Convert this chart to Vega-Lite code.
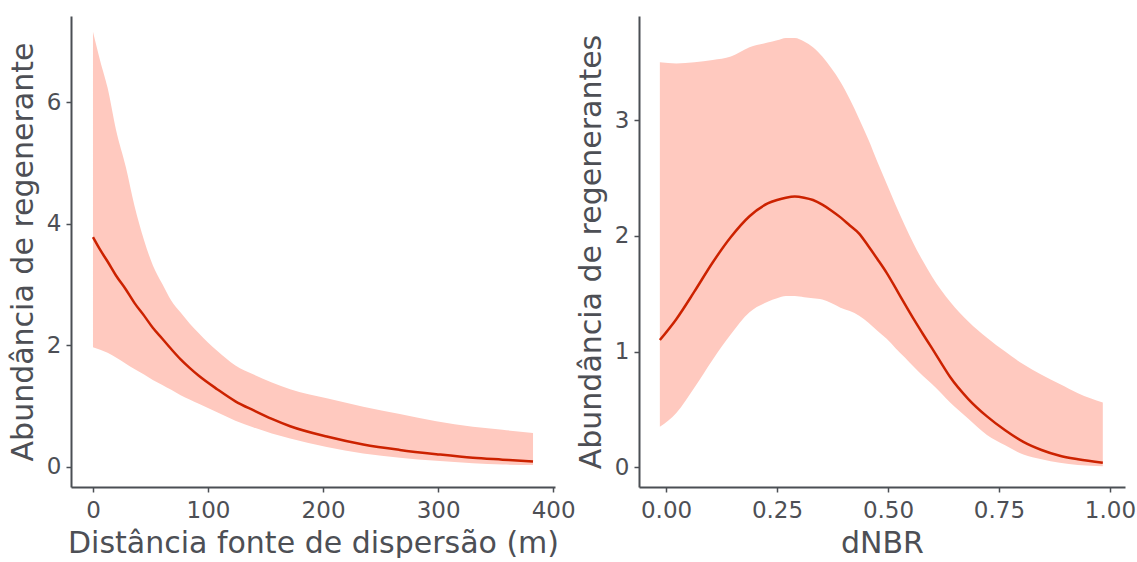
{
  "$schema": "https://vega.github.io/schema/vega-lite/v6.json",
  "autosize": {"type": "pad"},
  "padding": {"left": 8, "top": 16, "right": 0, "bottom": 0},
  "background": "white",
  "spacing": 84,
  "bounds": "flush",
  "config": {
    "view": {"stroke": null},
    "axis": {
      "grid": false,
      "domainColor": "#4B4F54",
      "domainWidth": 2,
      "tickColor": "#4B4F54",
      "tickWidth": 1.5,
      "tickSize": 5,
      "labelColor": "#4D4F55",
      "labelFont": "DejaVu Sans",
      "labelFontSize": 23,
      "labelPadding": 5,
      "titleColor": "#4D4F55",
      "titleFont": "DejaVu Sans",
      "titleFontSize": 30,
      "titleFontWeight": "normal"
    }
  },
  "datasets": {
    "dist": [
      {"d": 0, "fit": 3.78, "lo": 1.97, "hi": 7.16},
      {"d": 6.3, "fit": 3.57, "lo": 1.93, "hi": 6.68},
      {"d": 12.7, "fit": 3.38, "lo": 1.88, "hi": 6.24},
      {"d": 20.0, "fit": 3.15, "lo": 1.80, "hi": 5.55},
      {"d": 28.6, "fit": 2.92, "lo": 1.70, "hi": 4.93},
      {"d": 36.0, "fit": 2.70, "lo": 1.61, "hi": 4.30},
      {"d": 44.4, "fit": 2.49, "lo": 1.52, "hi": 3.73},
      {"d": 52.0, "fit": 2.29, "lo": 1.43, "hi": 3.32},
      {"d": 60.3, "fit": 2.11, "lo": 1.35, "hi": 3.01},
      {"d": 68.0, "fit": 1.94, "lo": 1.27, "hi": 2.74},
      {"d": 76.2, "fit": 1.77, "lo": 1.18, "hi": 2.54},
      {"d": 84.0, "fit": 1.63, "lo": 1.11, "hi": 2.36},
      {"d": 92.0, "fit": 1.50, "lo": 1.04, "hi": 2.20},
      {"d": 107.9, "fit": 1.28, "lo": 0.90, "hi": 1.91},
      {"d": 123.8, "fit": 1.08, "lo": 0.76, "hi": 1.67},
      {"d": 139.7, "fit": 0.93, "lo": 0.65, "hi": 1.52},
      {"d": 155.5, "fit": 0.79, "lo": 0.55, "hi": 1.39},
      {"d": 171.4, "fit": 0.67, "lo": 0.47, "hi": 1.28},
      {"d": 203.2, "fit": 0.50, "lo": 0.33, "hi": 1.13},
      {"d": 234.9, "fit": 0.37, "lo": 0.22, "hi": 0.99},
      {"d": 266.7, "fit": 0.28, "lo": 0.15, "hi": 0.87},
      {"d": 298.4, "fit": 0.21, "lo": 0.10, "hi": 0.75},
      {"d": 330.2, "fit": 0.15, "lo": 0.06, "hi": 0.66},
      {"d": 356.0, "fit": 0.12, "lo": 0.04, "hi": 0.61},
      {"d": 382.5, "fit": 0.09, "lo": 0.03, "hi": 0.56}
    ],
    "nbr": [
      {"n": -0.014, "fit": 1.10, "lo": 0.35, "hi": 3.50},
      {"n": 0.023, "fit": 1.28, "lo": 0.47, "hi": 3.49},
      {"n": 0.064, "fit": 1.52, "lo": 0.69, "hi": 3.50},
      {"n": 0.105, "fit": 1.77, "lo": 0.93, "hi": 3.52},
      {"n": 0.146, "fit": 1.99, "lo": 1.15, "hi": 3.55},
      {"n": 0.188, "fit": 2.17, "lo": 1.34, "hi": 3.63},
      {"n": 0.229, "fit": 2.28, "lo": 1.43, "hi": 3.67},
      {"n": 0.250, "fit": 2.31, "lo": 1.46, "hi": 3.69},
      {"n": 0.270, "fit": 2.33, "lo": 1.48, "hi": 3.71},
      {"n": 0.290, "fit": 2.34, "lo": 1.48, "hi": 3.71},
      {"n": 0.311, "fit": 2.33, "lo": 1.47, "hi": 3.68},
      {"n": 0.331, "fit": 2.31, "lo": 1.46, "hi": 3.63},
      {"n": 0.352, "fit": 2.27, "lo": 1.45, "hi": 3.55},
      {"n": 0.372, "fit": 2.22, "lo": 1.42, "hi": 3.45},
      {"n": 0.393, "fit": 2.16, "lo": 1.38, "hi": 3.33},
      {"n": 0.414, "fit": 2.09, "lo": 1.35, "hi": 3.18},
      {"n": 0.435, "fit": 2.02, "lo": 1.31, "hi": 3.01},
      {"n": 0.456, "fit": 1.91, "lo": 1.25, "hi": 2.83},
      {"n": 0.476, "fit": 1.80, "lo": 1.18, "hi": 2.64},
      {"n": 0.497, "fit": 1.68, "lo": 1.11, "hi": 2.45},
      {"n": 0.517, "fit": 1.55, "lo": 1.03, "hi": 2.27},
      {"n": 0.538, "fit": 1.41, "lo": 0.95, "hi": 2.09},
      {"n": 0.558, "fit": 1.28, "lo": 0.87, "hi": 1.93},
      {"n": 0.579, "fit": 1.15, "lo": 0.79, "hi": 1.78},
      {"n": 0.599, "fit": 1.03, "lo": 0.72, "hi": 1.65},
      {"n": 0.620, "fit": 0.90, "lo": 0.64, "hi": 1.53},
      {"n": 0.640, "fit": 0.78, "lo": 0.56, "hi": 1.43},
      {"n": 0.681, "fit": 0.59, "lo": 0.42, "hi": 1.26},
      {"n": 0.723, "fit": 0.44, "lo": 0.28, "hi": 1.12},
      {"n": 0.764, "fit": 0.32, "lo": 0.19, "hi": 1.00},
      {"n": 0.805, "fit": 0.22, "lo": 0.11, "hi": 0.89},
      {"n": 0.846, "fit": 0.15, "lo": 0.07, "hi": 0.80},
      {"n": 0.887, "fit": 0.10, "lo": 0.04, "hi": 0.72},
      {"n": 0.928, "fit": 0.07, "lo": 0.02, "hi": 0.64},
      {"n": 0.984, "fit": 0.04, "lo": 0.01, "hi": 0.56}
    ]
  },
  "hconcat": [
    {
      "width": 484,
      "height": 471,
      "data": {"name": "dist"},
      "encoding": {
        "x": {
          "field": "d",
          "type": "quantitative",
          "scale": {"domain": [-19.1, 401.6], "nice": false, "zero": false},
          "axis": {"values": [0, 100, 200, 300, 400], "format": "d", "title": "Distância fonte de dispersão (m)", "labelPadding": 7, "titlePadding": 6}
        }
      },
      "layer": [
        {
          "mark": {"type": "area", "color": "#FFC9BF", "opacity": 1, "interpolate": "monotone"},
          "encoding": {
            "y": {
              "field": "lo",
              "type": "quantitative",
              "scale": {"domain": [-0.33, 7.42], "nice": false, "zero": false},
              "axis": {"values": [0, 2, 4, 6], "format": "d", "title": "Abundância de regenerante", "titlePadding": 8}
            },
            "y2": {"field": "hi"}
          }
        },
        {
          "mark": {"type": "line", "color": "#CC2200", "strokeWidth": 2.5, "interpolate": "monotone"},
          "encoding": {"y": {"field": "fit", "type": "quantitative"}}
        }
      ]
    },
    {
      "width": 486,
      "height": 471,
      "data": {"name": "nbr"},
      "encoding": {
        "x": {
          "field": "n",
          "type": "quantitative",
          "scale": {"domain": [-0.061, 1.034], "nice": false, "zero": false},
          "axis": {"values": [0, 0.25, 0.5, 0.75, 1], "format": ".2f", "title": "dNBR", "labelPadding": 7, "titlePadding": 6}
        }
      },
      "layer": [
        {
          "mark": {"type": "area", "color": "#FFC9BF", "opacity": 1, "interpolate": "monotone"},
          "encoding": {
            "y": {
              "field": "lo",
              "type": "quantitative",
              "scale": {"domain": [-0.17, 3.9], "nice": false, "zero": false},
              "axis": {"values": [0, 1, 2, 3], "format": "d", "title": "Abundância de regenerantes", "titlePadding": 8}
            },
            "y2": {"field": "hi"}
          }
        },
        {
          "mark": {"type": "line", "color": "#CC2200", "strokeWidth": 2.5, "interpolate": "monotone"},
          "encoding": {"y": {"field": "fit", "type": "quantitative"}}
        }
      ]
    }
  ]
}
